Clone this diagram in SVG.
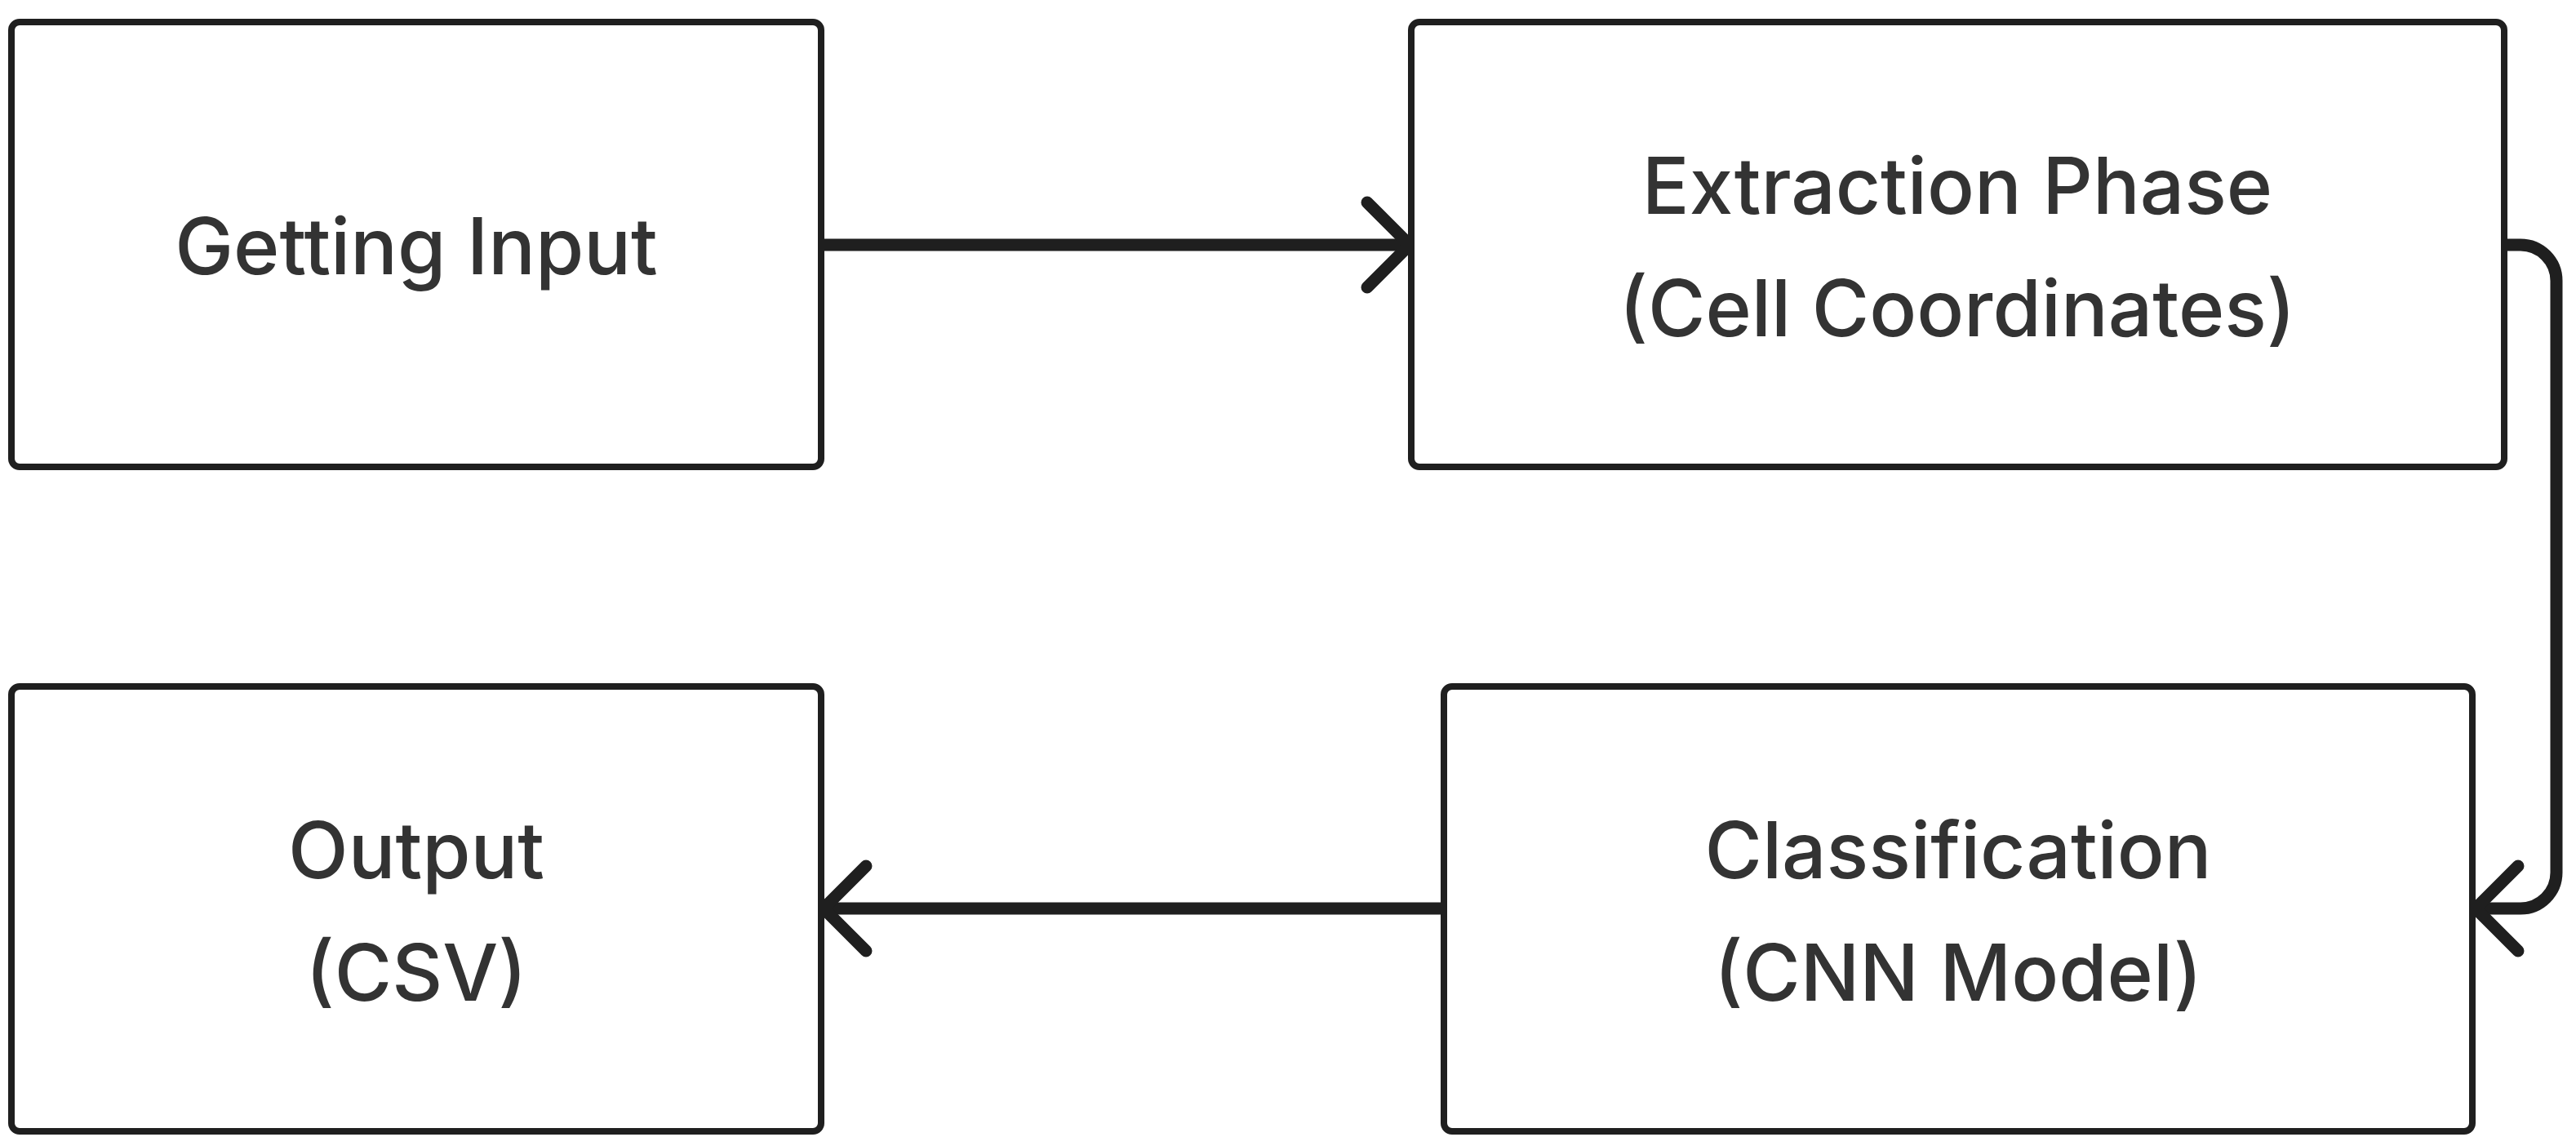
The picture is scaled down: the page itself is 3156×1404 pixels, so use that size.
<svg xmlns="http://www.w3.org/2000/svg" width="3156" height="1404" viewBox="0 0 3156 1404">
<style>
.box{fill:#ffffff;stroke:#1f1f1f;stroke-width:8}
.lbl{font-family:Inter,"Noto Sans","Liberation Sans",sans-serif;font-size:96px;font-weight:500;fill:#333333;text-anchor:middle}
.edge{fill:none;stroke:#1f1f1f;stroke-width:15;stroke-linejoin:round}
.head{fill:none;stroke:#1f1f1f;stroke-width:15;stroke-linecap:round;stroke-linejoin:round}
</style>
<rect width="3156" height="1404" fill="#ffffff"/>
<g id="connectors">
<path class="edge" d="M1006 300 H1724"/>
<path class="head" d="M1675 248 L1727 300 L1675 352"/>
<path class="edge" d="M3068 300 H3088 A44 44 0 0 1 3132 344 V1069 A44 44 0 0 1 3088 1113 H3036"/>
<path class="head" d="M3085 1061 L3033 1113 L3085 1165"/>
<path class="edge" d="M1769 1113 H1012"/>
<path class="head" d="M1061 1061 L1009 1113 L1061 1165"/>
</g>
<g id="node-getting-input">
<rect class="box" x="14" y="27" width="992" height="545" rx="10"/>
<text class="lbl" x="510" y="336">Getting Input</text>
</g>
<g id="node-extraction">
<rect class="box" x="1729" y="27" width="1339" height="545" rx="10"/>
<text class="lbl" x="2398" y="262">Extraction Phase</text>
<text class="lbl" x="2398" y="412">(Cell Coordinates)</text>
</g>
<g id="node-classification">
<rect class="box" x="1769" y="841" width="1260" height="545" rx="10"/>
<text class="lbl" x="2399" y="1076">Classification</text>
<text class="lbl" x="2399" y="1226">(CNN Model)</text>
</g>
<g id="node-output">
<rect class="box" x="14" y="841" width="992" height="545" rx="10"/>
<text class="lbl" x="510" y="1076">Output</text>
<text class="lbl" x="510" y="1226">(CSV)</text>
</g>
</svg>
